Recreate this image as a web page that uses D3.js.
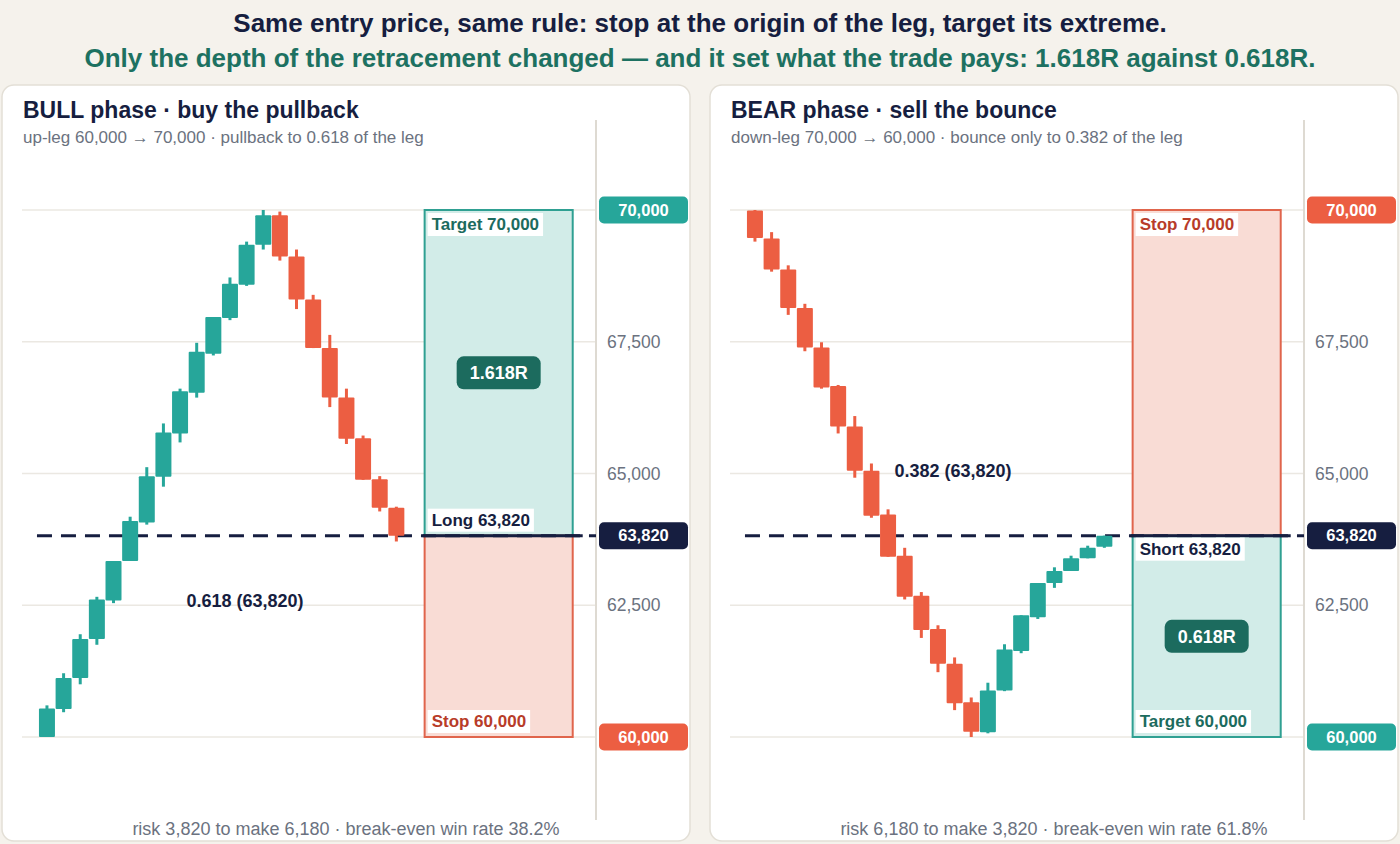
<!DOCTYPE html>
<html>
<head>
<meta charset="utf-8">
<script src="https://cdn.jsdelivr.net/npm/d3@7"></script>
<style>
  body { margin: 0; background: #f5f2ec; font-family: "Liberation Sans", Arial, sans-serif; }
  svg { display: block; }
</style>
</head>
<body>
<div id="chart"></div>
<script>
// bull leg 60,000 -> 70,000 then pullback to 0.618
const bullOpen  = [60000, 60530, 61120, 61860, 62590, 63340, 64070, 64940, 65760, 66530, 67270, 67950, 68580, 69340, 69900, 69120, 68300, 67380, 66440, 65670, 64890, 64350];
const bullHigh  = [60600, 61210, 61950, 62660, 63340, 64180, 65120, 65950, 66610, 67480, 67970, 68720, 69400, 70000, 69970, 69250, 68390, 67630, 66610, 65720, 64950, 64370];
const bullLow   = [60000, 60470, 61000, 61750, 62540, 63340, 64030, 64750, 65590, 66440, 67240, 67910, 68560, 69250, 69040, 68120, 67380, 66260, 65560, 64880, 64280, 63710];
const bullClose = [60540, 61120, 61860, 62610, 63340, 64100, 64950, 65780, 66560, 67310, 67970, 68600, 69340, 69900, 69120, 68300, 67380, 66440, 65660, 64880, 64350, 63820];

// bear leg 70,000 -> 60,000 then bounce to 0.382
const bearOpen  = [69990, 69460, 68870, 68140, 67390, 66660, 65890, 65050, 64220, 63440, 62680, 62050, 61390, 60660, 60090, 60880, 61630, 62270, 62920, 63150, 63390, 63610];
const bearHigh  = [70000, 69580, 68950, 68220, 67490, 66680, 66090, 65190, 64320, 63590, 62750, 62120, 61510, 60750, 61030, 61760, 62310, 62920, 63220, 63440, 63630, 63820];
const bearLow   = [69400, 68830, 68010, 67320, 66610, 65760, 64920, 64160, 63420, 62610, 61880, 61230, 60510, 60000, 60070, 60870, 61590, 62240, 62830, 63150, 63390, 63590];
const bearClose = [69470, 68870, 68140, 67390, 66630, 65890, 65050, 64200, 63420, 62660, 62030, 61390, 60640, 60100, 60880, 61660, 62310, 62920, 63150, 63390, 63590, 63820];

const gridTicks = [60000, 62500, 65000, 67500, 70000];
const axisTicks = [62500, 65000, 67500];
const legLow = 60000;
const legHigh = 70000;
const entryPrice = 63820;

const GREEN = "#26a69a", RED = "#ec5e42", NAVY = "#161e40", DARKGREEN = "#1c6b5e", GREY = "#6b7280";
const fmt = d3.format(",");

const svg = d3.select("#chart").append("svg")
  .attr("width", 1400)
  .attr("height", 844);

svg.append("text")
  .attr("x", 700).attr("y", 32)
  .attr("text-anchor", "middle")
  .attr("font-size", 26).attr("font-weight", "bold")
  .attr("fill", NAVY)
  .text("Same entry price, same rule: stop at the origin of the leg, target its extreme.");

svg.append("text")
  .attr("x", 700).attr("y", 67)
  .attr("text-anchor", "middle")
  .attr("font-size", 26).attr("font-weight", "bold")
  .attr("fill", "#1d7161")
  .text("Only the depth of the retracement changed \u2014 and it set what the trade pays: 1.618R against 0.618R.");

function drawPanel(p) {
  const g = svg.append("g").attr("transform", `translate(${p.left},85)`);

  g.append("rect")
    .attr("x", 0).attr("y", 0)
    .attr("width", 688).attr("height", 756)
    .attr("rx", 12)
    .attr("fill", "#fff")
    .attr("stroke", "#e3dfd6").attr("stroke-width", 1.5);

  g.append("text")
    .attr("x", 21).attr("y", 33)
    .attr("font-size", 23).attr("font-weight", "bold")
    .attr("fill", NAVY)
    .text(p.title);

  g.append("text")
    .attr("x", 21).attr("y", 58)
    .attr("font-size", 17)
    .attr("fill", GREY)
    .text(p.subtitle);

  const x = d3.scaleLinear().domain([-1.5, 33]).range([20, 594]);
  const y = d3.scaleLinear().domain([legLow, legHigh]).range([652, 125]);

  // gridlines
  g.selectAll(".grid")
    .data(gridTicks)
    .join("line")
    .attr("x1", 20).attr("x2", 594)
    .attr("y1", d => y(d)).attr("y2", d => y(d))
    .attr("stroke", "#ebe8e2").attr("stroke-width", 1.5);

  // right axis line
  g.append("line")
    .attr("x1", 594).attr("x2", 594)
    .attr("y1", 35).attr("y2", 735)
    .attr("stroke", "#dedad2").attr("stroke-width", 2);

  // risk / reward boxes
  const bx0 = x(22.7), bx1 = x(31.6);
  const boxes = [
    { top: legHigh, bottom: entryPrice, win: p.long },
    { top: entryPrice, bottom: legLow, win: !p.long }
  ];
  g.selectAll(".box")
    .data(boxes)
    .join("rect")
    .attr("x", bx0).attr("width", bx1 - bx0)
    .attr("y", d => y(d.top))
    .attr("height", d => y(d.bottom) - y(d.top))
    .attr("fill", d => d.win ? "#d2ece8" : "#f9dcd5")
    .attr("stroke", d => d.win ? "#2fa092" : "#e0654c")
    .attr("stroke-width", 2);

  // entry line
  g.append("line")
    .attr("x1", x(-0.6)).attr("x2", 594)
    .attr("y1", y(entryPrice)).attr("y2", y(entryPrice))
    .attr("stroke", NAVY).attr("stroke-width", 3)
    .attr("stroke-dasharray", "15,9");
  g.append("line")
    .attr("x1", bx0 - 2).attr("x2", bx1 + 10)
    .attr("y1", y(entryPrice)).attr("y2", y(entryPrice))
    .attr("stroke", NAVY).attr("stroke-width", 3);

  // candles
  const candles = p.open.map((o, i) => ({ i, o, h: p.high[i], l: p.low[i], c: p.close[i] }));
  const cg = g.selectAll(".candle")
    .data(candles)
    .join("g");
  cg.append("line")
    .attr("x1", d => x(d.i)).attr("x2", d => x(d.i))
    .attr("y1", d => y(d.h)).attr("y2", d => y(d.l))
    .attr("stroke", d => d.c >= d.o ? GREEN : RED)
    .attr("stroke-width", 3);
  cg.append("rect")
    .attr("x", d => x(d.i) - 8)
    .attr("width", 16)
    .attr("y", d => y(Math.max(d.o, d.c)))
    .attr("height", d => Math.max(1, Math.abs(y(d.o) - y(d.c))))
    .attr("rx", 1)
    .attr("fill", d => d.c >= d.o ? GREEN : RED);

  // fib label
  g.append("text")
    .attr("x", x(11.9))
    .attr("y", y(entryPrice) + (p.long ? 65 : -65))
    .attr("dy", "0.35em")
    .attr("text-anchor", "middle")
    .attr("font-size", 18).attr("font-weight", "bold")
    .attr("fill", NAVY)
    .text(p.fibLabel);

  // box labels
  const labels = [
    { text: p.topLabel, color: p.long ? DARKGREEN : "#b83c29", y0: y(legHigh) + 3 },
    { text: p.entryLabel, color: NAVY, y0: p.long ? y(entryPrice) - 27 : y(entryPrice) + 2 },
    { text: p.bottomLabel, color: p.long ? "#b83c29" : DARKGREEN, y0: y(legLow) - 27 }
  ];
  labels.forEach(l => {
    const lg = g.append("g");
    const t = lg.append("text")
      .attr("x", bx0 + 7).attr("y", l.y0 + 17)
      .attr("font-size", 17).attr("font-weight", "bold")
      .attr("fill", l.color)
      .text(l.text);
    const w = t.node().getComputedTextLength();
    lg.insert("rect", "text")
      .attr("x", bx0 + 3).attr("y", l.y0)
      .attr("width", w + 8).attr("height", 23)
      .attr("fill", "#fff");
  });

  // R badge
  const winTop = p.long ? legHigh : entryPrice;
  const winBottom = p.long ? entryPrice : legLow;
  const cy = (y(winTop) + y(winBottom)) / 2;
  const cx = (bx0 + bx1) / 2;
  g.append("rect")
    .attr("x", cx - 42).attr("y", cy - 16.5)
    .attr("width", 84).attr("height", 33)
    .attr("rx", 7)
    .attr("fill", DARKGREEN);
  g.append("text")
    .attr("x", cx).attr("y", cy)
    .attr("dy", "0.35em")
    .attr("text-anchor", "middle")
    .attr("font-size", 18).attr("font-weight", "bold")
    .attr("fill", "#fff")
    .text(p.rLabel);

  // axis tick labels
  g.selectAll(".tick")
    .data(axisTicks)
    .join("text")
    .attr("x", 605)
    .attr("y", d => y(d))
    .attr("dy", "0.35em")
    .attr("font-size", 17.5)
    .attr("fill", GREY)
    .text(d => fmt(d));

  // price tags
  const tags = [
    { v: legHigh, fill: p.long ? GREEN : RED },
    { v: entryPrice, fill: NAVY },
    { v: legLow, fill: p.long ? RED : GREEN }
  ];
  tags.forEach(t => {
    g.append("rect")
      .attr("x", 597).attr("y", y(t.v) - 13.5)
      .attr("width", 89).attr("height", 27)
      .attr("rx", 5)
      .attr("fill", t.fill);
    g.append("text")
      .attr("x", 641.5).attr("y", y(t.v))
      .attr("dy", "0.35em")
      .attr("text-anchor", "middle")
      .attr("font-size", 16.5).attr("font-weight", "bold")
      .attr("fill", "#fff")
      .text(fmt(t.v));
  });

  g.append("text")
    .attr("x", 344).attr("y", 750)
    .attr("text-anchor", "middle")
    .attr("font-size", 18)
    .attr("fill", GREY)
    .text(p.footer);
}

drawPanel({
  left: 2, long: true,
  title: "BULL phase \u00b7 buy the pullback",
  subtitle: "up-leg 60,000 \u2192 70,000 \u00b7 pullback to 0.618 of the leg",
  open: bullOpen, high: bullHigh, low: bullLow, close: bullClose,
  fibLabel: "0.618 (63,820)",
  topLabel: "Target 70,000", entryLabel: "Long 63,820", bottomLabel: "Stop 60,000",
  rLabel: "1.618R",
  footer: "risk 3,820 to make 6,180 \u00b7 break-even win rate 38.2%"
});

drawPanel({
  left: 710, long: false,
  title: "BEAR phase \u00b7 sell the bounce",
  subtitle: "down-leg 70,000 \u2192 60,000 \u00b7 bounce only to 0.382 of the leg",
  open: bearOpen, high: bearHigh, low: bearLow, close: bearClose,
  fibLabel: "0.382 (63,820)",
  topLabel: "Stop 70,000", entryLabel: "Short 63,820", bottomLabel: "Target 60,000",
  rLabel: "0.618R",
  footer: "risk 6,180 to make 3,820 \u00b7 break-even win rate 61.8%"
});
</script>
</body>
</html>
